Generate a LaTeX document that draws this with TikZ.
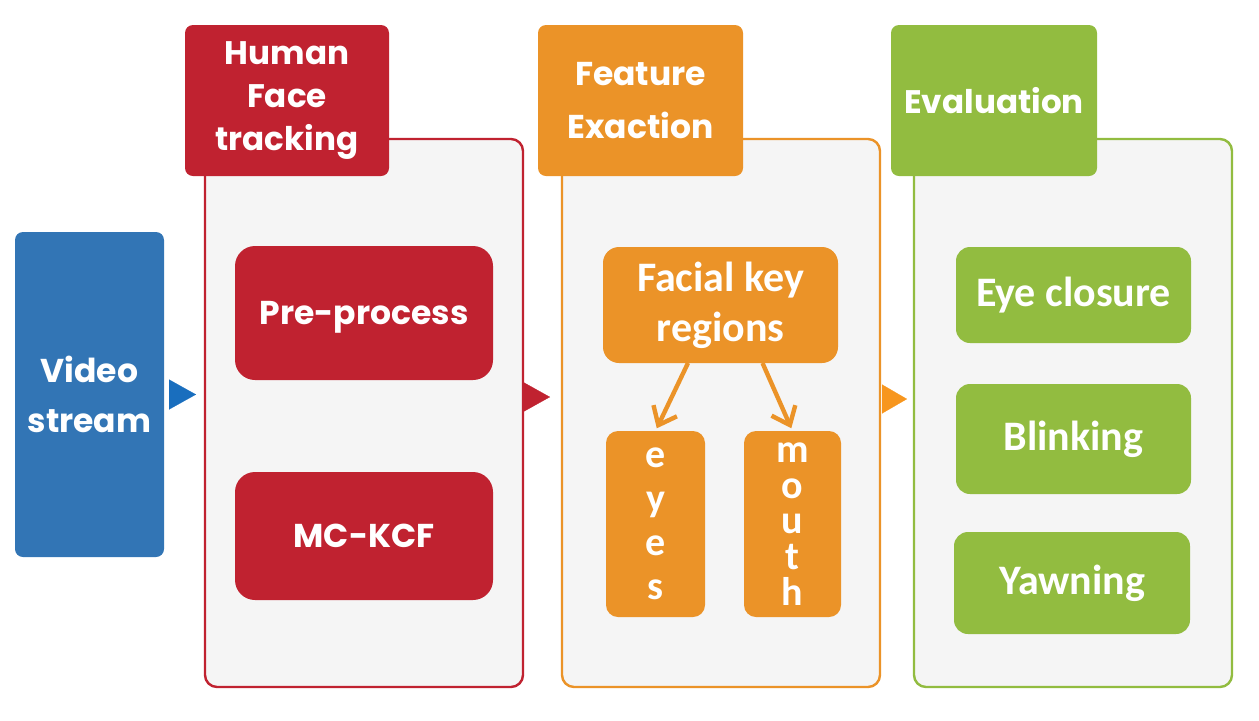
\documentclass[tikz,border=0pt]{standalone}
\usepackage{fontspec}
\setmainfont{Carlito}
\newfontfamily\gothic{Poppins}
\newfontfamily\calib{Carlito}
\usetikzlibrary{arrows.meta,calc}
\definecolor{cred}{RGB}{192,34,48}
\definecolor{corange}{RGB}{235,147,40}
\definecolor{corangeT}{RGB}{247,150,30}
\definecolor{cgreen}{RGB}{146,188,64}
\definecolor{cblue}{RGB}{50,117,181}
\definecolor{cblueT}{RGB}{25,110,190}
\definecolor{cpanel}{RGB}{245,245,245}
\begin{document}
\begin{tikzpicture}[x=0.5pt,y=-0.5pt,
  every node/.style={inner sep=0pt, outer sep=0pt, text=white, align=center},
  titlebox/.style={rounded corners=4pt, font=\gothic\bfseries\fontsize{16.3}{21.5}\selectfont},
  panel/.style={rounded corners=6pt, fill=cpanel, line width=1.2pt, minimum width=159pt, minimum height=274pt},
  gfont/.style={font=\gothic\bfseries\fontsize{16.5}{25}\selectfont},
  cfont/.style={font=\calib\bfseries\fontsize{21}{25}\selectfont},
  tri/.style={line width=0.1pt},
  farrow/.style={draw=corange, line width=2.2pt, -{Straight Barb[length=8pt,width=13pt]}}
]
\useasboundingbox (0,0) rectangle (1259,720);

% input
\node[fill=cblue, rounded corners=4pt, minimum width=74.5pt, minimum height=162.5pt, gfont] (video) at (89.5,394.5) {Video\\stream};

% red panel
\node[panel, draw=cred] (redc) at (364,413) {};
\node[titlebox, fill=cred, minimum width=102pt, minimum height=75.5pt] (redt) at (287,100.5) {Human\\Face\\tracking};
\node[fill=cred, rounded corners=10pt, minimum width=129pt, minimum height=67pt, gfont, text depth=0pt] (pre) at (364,313) {Pre-process};
\node[fill=cred, rounded corners=10pt, minimum width=129pt, minimum height=64pt, gfont] (kcf) at (364,536) {MC-KCF};

% orange panel
\node[panel, draw=corange] (orac) at (721,413) {};
\node[titlebox, fill=corange, minimum width=102.5pt, minimum height=75.5pt, font=\gothic\bfseries\fontsize{16.5}{26.5}\selectfont] (orat) at (640.5,100.5) {Feature\\Exaction};
\node[fill=corange, rounded corners=8pt, minimum width=117.5pt, minimum height=58pt, cfont] (fk) at (720.5,305) {Facial key\\regions};
\node[fill=corange, rounded corners=6pt, minimum width=49.5pt, minimum height=93pt, font=\calib\bfseries\fontsize{20}{22}\selectfont] (eyes) at (655.5,524) {e\\y\\e\\s};
\node[fill=corange, rounded corners=6pt, minimum width=48.5pt, minimum height=93pt, font=\calib\bfseries\fontsize{20}{17.9}\selectfont] (mouth) at (792.5,524) {m\\o\\u\\t\\h};
\draw[farrow, shorten >=1.5pt] ([xshift=-16.25pt]fk.south) -- (eyes.north);
\draw[farrow, shorten >=1.5pt] ([xshift=21pt]fk.south) -- (mouth.north);

% green panel
\node[panel, draw=cgreen] (grc) at (1073,413) {};
\node[titlebox, fill=cgreen, minimum width=103pt, minimum height=75.5pt] (grt) at (994,100.5) {Evaluation};
\node[fill=cgreen, rounded corners=7pt, minimum width=117.5pt, minimum height=48pt, cfont] (eye) at (1073.5,295) {Eye closure};
\node[fill=cgreen, rounded corners=7pt, minimum width=117.5pt, minimum height=55pt, cfont] (blink) at (1073.5,439) {Blinking};
\node[fill=cgreen, rounded corners=7pt, minimum width=118pt, minimum height=51pt, cfont] (yawn) at (1072,583) {Yawning};

% connectors (triangle heads)
\draw[tri, draw=cblueT, shorten <=2.5pt, shorten >=4.5pt, -{Triangle[length=13.5pt,width=15pt]}] (video.east) -- (video.east -| redc.west);
\draw[tri, draw=cred, shorten >=6pt, -{Triangle[length=13.5pt,width=15pt]}] ([yshift=8pt]redc.east) -- ([yshift=8pt]redc.east -| orac.west);
\draw[tri, draw=corangeT, shorten <=1pt, shorten >=3.5pt, -{Triangle[length=12.5pt,width=14.5pt]}] ([yshift=7pt]orac.east) -- ([yshift=7pt]orac.east -| grc.west);
\end{tikzpicture}
\end{document}
